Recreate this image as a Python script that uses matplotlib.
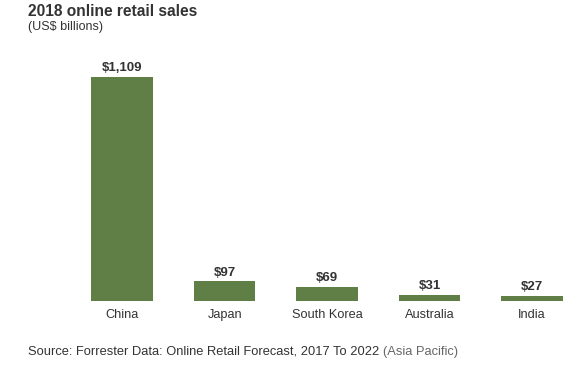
import matplotlib
matplotlib.use('Agg')
import matplotlib.pyplot as plt

plt.rcParams['font.family'] = ['Liberation Sans', 'DejaVu Sans']

countries = ['China', 'Japan', 'South Korea', 'Australia', 'India']
sales = [1109, 97, 69, 31, 27]
labels = ['$1,109', '$97', '$69', '$31', '$27']

bar_color = '#5f7f46'
text_color = '#333333'

fig = plt.figure(figsize=(5.8, 3.7), dpi=100)
ax = fig.add_axes([71 / 580, 69 / 370, 507 / 580, 241 / 370])

x = list(range(len(countries)))
bars = ax.bar(x, sales, width=0.6, color=bar_color)

for b, lab in zip(bars, labels):
    ax.annotate(lab, xy=(b.get_x() + b.get_width() / 2, b.get_height()),
                xytext=(0, 2), textcoords='offset points',
                ha='center', va='bottom', fontsize=9.5, fontweight='bold',
                color=text_color)

ax.set_xlim(-0.5, 4.45)
ax.set_ylim(0, 1193)
ax.set_xticks(x)
ax.set_xticklabels(countries, fontsize=9.2, color=text_color)
ax.tick_params(axis='x', length=0, pad=6)
ax.set_yticks([])
for s in ax.spines.values():
    s.set_visible(False)

fig.text(28 / 580, 1 - 11 / 370, '2018 online retail sales', fontsize=11.2,
         fontweight='bold', color=text_color, va='center', ha='left')
fig.text(28 / 580, 1 - 27 / 370, '(US$ billions)', fontsize=9,
         color=text_color, va='center', ha='left')

src = fig.text(28 / 580, 1 - 352 / 370,
               'Source: Forrester Data: Online Retail Forecast, 2017 To 2022 ',
               fontsize=9.3, color=text_color, va='center', ha='left')
ax.annotate('(Asia Pacific)', xy=(1, 0.5), xycoords=src, va='center', ha='left',
            fontsize=9.3, color='#666666', annotation_clip=False)

fig.savefig('out.png', dpi=100)
